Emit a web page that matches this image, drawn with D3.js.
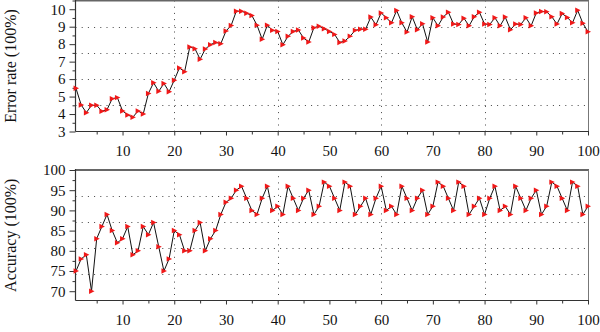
<!DOCTYPE html>
<html>
<head>
<meta charset="utf-8">
<script src="https://cdn.jsdelivr.net/npm/d3@7/dist/d3.min.js"></script>
<style>
html,body{margin:0;padding:0;background:#fff;}
svg{display:block;}
text{font-family:"Liberation Serif","Times New Roman",serif;fill:#111;}
</style>
</head>
<body>
<svg id="chart" width="600" height="332"></svg>
<script>
// ---- data ----
const epochs = d3.range(1, 101);
const errorRate = [
5.47,4.52,4.08,4.5,4.5,4.16,4.25,4.88,4.94,4.18,
3.95,3.82,4.18,4.0,5.18,5.79,5.3,5.75,5.28,5.94,
6.64,6.42,7.84,7.74,7.14,7.72,7.97,8.1,8.03,8.75,
9.07,9.89,9.89,9.77,9.64,9.09,8.28,9.09,8.79,8.73,
7.97,8.45,8.73,8.81,8.35,8.12,8.94,9.03,8.88,8.73,
8.56,8.1,8.18,8.46,8.79,8.86,8.86,9.55,9.11,9.79,
9.51,9.22,9.93,9.22,8.69,9.57,8.83,9.17,8.12,9.51,
9.05,9.55,9.83,9.15,9.13,9.49,9.05,9.57,9.83,9.15,
9.13,9.51,9.05,9.55,8.83,9.15,9.13,9.51,9.05,9.79,
9.87,9.85,9.57,9.15,9.75,9.53,9.22,9.94,9.2,8.71];
const accuracy = [
75,78,79,70,83,86,89,85,82,83,
86,79,80,86,84,87,81,75,78,85,
84,80,80,85,87,80,83,85,89,92,
93,95,96,93,90,89,93,96,90,91,
89,96,93,90,93,95,89,91,97,96,
93,90,97,96,89,91,93,89,93,96,
90,91,89,96,93,90,93,95,89,91,
97,96,93,90,97,96,89,91,93,89,
93,96,90,91,89,96,93,90,93,95,
89,91,97,96,93,90,97,96,89,91];
const xTickLabels = [10,20,30,40,50,60,70,80,90,100];
const xMinorTicks = [5,15,25,35,45,55,65,75,85,95];
const xGridValues = [20,40,60,80];
const errTicks = [3,4,5,6,7,8,9,10];
const accTicks = [70,75,80,85,90,95,100];

// ---- layout ----
const svg = d3.select("#chart");
const L = 75.5, R = 588.5;
const x = d3.scaleLinear().domain([1,100]).range([76,588]);

const panels = [
  {values: errorRate, domain:[3,10.5], top:0.5, bottom:131.5, ticks: errTicks, minorStep:0.5, title:"Error rate (100%)"},
  {values: accuracy, domain:[67.7,100], top:170, bottom:300.5, ticks: accTicks, minorStep:2.5, title:"Accuracy (100%)"}
];

const tri = d3.symbol().type({
  draw(ctx, size){
    const s = Math.sqrt(size);
    ctx.moveTo(s*0.55,0);
    ctx.lineTo(-s*0.45,-s*0.5);
    ctx.lineTo(-s*0.45,s*0.5);
    ctx.closePath();
  }
}).size(30);

panels.forEach(p => {
  const y = d3.scaleLinear().domain(p.domain).range([p.bottom, p.top]);
  const g = svg.append("g");

  // horizontal dotted grid: 4 lines dividing the range in 5
  const gy = d3.range(1,5).map(k => p.domain[0] + k*(p.domain[1]-p.domain[0])/5);
  g.selectAll(".hg").data(gy).join("line")
    .attr("x1", L).attr("x2", R)
    .attr("y1", d => Math.round(y(d))+0.5).attr("y2", d => Math.round(y(d))+0.5)
    .attr("stroke","#444").attr("stroke-width",1).attr("stroke-dasharray","1,5.2");
  g.selectAll(".vg").data(xGridValues).join("line")
    .attr("x1", d => Math.round(x(d))+0.5).attr("x2", d => Math.round(x(d))+0.5)
    .attr("y1", p.top).attr("y2", p.bottom)
    .attr("stroke","#444").attr("stroke-width",1).attr("stroke-dasharray","1,5.2");

  // frame: top & right
  g.append("line").attr("x1",L).attr("x2",R+0.5).attr("y1",p.top).attr("y2",p.top)
    .attr("stroke","#666").attr("stroke-width",2);
  g.append("line").attr("x1",R).attr("x2",R).attr("y1",p.top).attr("y2",p.bottom)
    .attr("stroke","#777").attr("stroke-width",1);

  // y axis
  const minor = d3.range(p.ticks[0], p.domain[1]+1e-9, p.minorStep)
    .filter(v => !p.ticks.includes(v) && v <= p.domain[1]);
  const yMinor = d3.axisLeft(y).tickValues(minor).tickSize(3).tickFormat("");
  const yMajor = d3.axisLeft(y).tickValues(p.ticks).tickSize(6).tickPadding(4).tickFormat(d3.format("d"));
  const ga1 = g.append("g").attr("transform",`translate(${L},0)`).call(yMinor);
  const ga2 = g.append("g").attr("transform",`translate(${L},0)`).call(yMajor);
  [ga1,ga2].forEach(a => { a.select(".domain").remove(); a.selectAll("line").attr("stroke","#333"); });
  ga2.selectAll("text").attr("font-size",15).attr("font-family","Liberation Serif").attr("fill","#111");
  g.append("line").attr("x1",L).attr("x2",L).attr("y1",p.top-1).attr("y2",p.bottom)
    .attr("stroke","#333").attr("stroke-width",1.2);

  // x axis
  const xMaj = d3.axisBottom(x).tickValues(xTickLabels).tickSize(4).tickPadding(10).tickFormat(d3.format("d"));
  const xMin = d3.axisBottom(x).tickValues(xMinorTicks).tickSize(3).tickFormat("");
  const gx1 = g.append("g").attr("transform",`translate(0,${p.bottom})`).call(xMin);
  const gx2 = g.append("g").attr("transform",`translate(0,${p.bottom})`).call(xMaj);
  [gx1,gx2].forEach(a => { a.select(".domain").remove(); a.selectAll("line").attr("stroke","#333"); });
  gx2.selectAll("text").attr("font-size",15).attr("font-family","Liberation Serif").attr("fill","#111");
  g.append("line").attr("x1",L).attr("x2",R+0.5).attr("y1",p.bottom).attr("y2",p.bottom)
    .attr("stroke","#333").attr("stroke-width",1.2);

  // title
  g.append("text")
    .attr("transform",`translate(16,${(p.top+p.bottom)/2}) rotate(-90)`)
    .attr("text-anchor","middle").attr("font-size",16)
    .text(p.title);

  // line
  const line = d3.line().x((d,i) => x(epochs[i])).y(d => y(d));
  g.append("path").datum(p.values).attr("d", line)
    .attr("fill","none").attr("stroke","#111").attr("stroke-width",1);

  // markers
  g.selectAll(".m").data(p.values).join("path")
    .attr("d", tri)
    .attr("transform",(d,i) => `translate(${x(epochs[i])},${y(d)})`)
    .attr("fill","#f01818");
});
</script>
</body>
</html>
